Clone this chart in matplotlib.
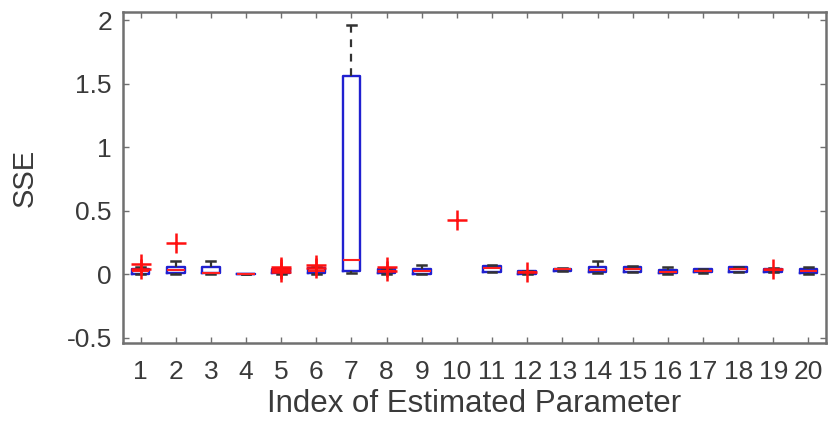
import matplotlib
matplotlib.use("Agg")
import matplotlib.pyplot as plt
import numpy as np

plt.rcParams['font.family'] = ['Liberation Sans', 'DejaVu Sans']

positions = list(range(1, 21))
q1 =     [0.005, 0.010, 0.010, 0.000, 0.010, 0.010, 0.025, 0.010, 0.005, None, 0.020, 0.005, 0.030, 0.015, 0.020, 0.010, 0.015, 0.020, 0.020, 0.010]
median = [0.030, 0.035, 0.010, 0.000, 0.030, 0.030, 0.110, 0.030, 0.030, None, 0.050, 0.015, 0.040, 0.035, 0.040, 0.020, 0.025, 0.040, 0.035, 0.030]
q3 =     [0.045, 0.060, 0.055, 0.000, 0.045, 0.050, 1.560, 0.045, 0.045, None, 0.065, 0.025, 0.045, 0.060, 0.055, 0.035, 0.040, 0.055, 0.045, 0.045]
whis_lo =[0.000, 0.005, 0.000, 0.000, 0.000, 0.000, 0.010, 0.000, 0.000, None, 0.015, 0.000, 0.025, 0.010, 0.015, 0.005, 0.010, 0.015, 0.015, 0.005]
whis_hi =[0.055, 0.105, 0.105, 0.000, 0.050, 0.055, 1.960, 0.050, 0.070, None, 0.075, 0.030, 0.050, 0.105, 0.065, 0.060, 0.045, 0.060, 0.050, 0.055]
fliers = [[0.08, 0.04], [0.25], [], [], [0.06, 0.04, 0.02], [0.07, 0.05],
          [], [0.06, 0.03], [], [0.43], [], [0.02], [], [], [], [], [], [], [0.045], []]
xtick_labels = [str(i) for i in positions]

fig = plt.figure(figsize=(8.31, 4.29), dpi=100)
ax = fig.add_axes([0.148, 0.2005, 0.846, 0.7716])

stats = []
box_pos = []
for i, p in enumerate(positions):
    if q1[i] is None:
        continue
    stats.append(dict(q1=q1[i], med=median[i], q3=q3[i], whislo=whis_lo[i], whishi=whis_hi[i], fliers=[]))
    box_pos.append(p)

ax.bxp(stats, positions=box_pos, widths=0.5, showfliers=False,
       boxprops=dict(color='#2020d0', linewidth=1.7),
       medianprops=dict(color='#ff2020', linewidth=1.5),
       whiskerprops=dict(color='#333333', linewidth=1.6, linestyle=(0, (3.5, 3))),
       capprops=dict(color='#333333', linewidth=1.8),
       capwidths=0.25)

for p, fl in zip(positions, fliers):
    if fl:
        ax.plot([p] * len(fl), fl, linestyle='none', marker='+', markersize=14.5,
                markeredgewidth=1.8, color='#ff1010', zorder=4)

ax.set_xlim(0.5, 20.5)
ax.set_ylim(-0.54, 2.065)
ax.set_yticks([-0.5, 0, 0.5, 1, 1.5, 2])
ax.set_yticklabels(['-0.5', '0', '0.5', '1', '1.5', '2'])
ax.set_xticks(positions)
ax.set_xticklabels(xtick_labels)

tc = '#3a3a3a'
for s in ax.spines.values():
    s.set_color('#707070')
    s.set_linewidth(1.8)
ax.tick_params(direction='in', length=4, width=1.0, colors='#707070', labelcolor=tc,
               labelsize=19, top=True, right=True)
ax.tick_params(axis='x', pad=12)
ax.tick_params(axis='y', pad=8)
ax.set_xlabel('Index of Estimated Parameter', fontsize=22.5, color=tc, labelpad=4)
ax.set_ylabel('SSE', fontsize=21, color=tc, labelpad=20)

fig.savefig('out.png', dpi=100)
